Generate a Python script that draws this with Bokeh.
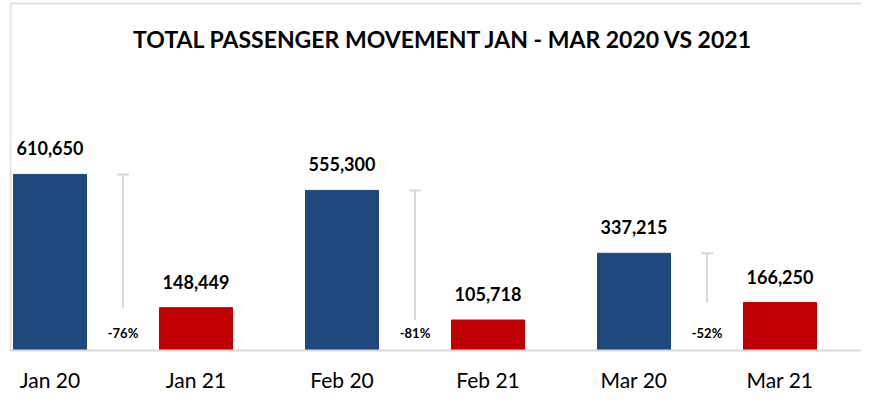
from bokeh.plotting import figure
from bokeh.models import (ColumnDataSource, Range1d, FixedTicker, Whisker, TeeHead, Label,
                          BoxAnnotation)
from bokeh.core.properties import value
from bokeh.embed import file_html
from bokeh.resources import INLINE

# ---- data ----
categories = ["Jan 20", "Jan 21", "Feb 20", "Feb 21", "Mar 20", "Mar 21"]
passengers = [610650, 148449, 555300, 105718, 337215, 166250]
years = ["2020", "2021", "2020", "2021", "2020", "2021"]
pct_labels = ["-76%", "-81%", "-52%"]
title_text = "TOTAL PASSENGER MOVEMENT JAN - MAR 2020 VS 2021"

# ---- styles ----
year_colors = {"2020": "#1F497D", "2021": "#C00000"}
FONT = "Lato"
GREY = "#D9D9D9"

W, H = 861, 394
px_per_cat = 146.0
left_pad = 9
gap_px = 4
frame_w = W - left_pad
frame_h = 350
x_start = -0.25 - gap_px / px_per_cat
x_end = x_start + frame_w / px_per_cat
y_end = 1214000

xs = list(range(len(categories)))
src = ColumnDataSource(dict(
    x=xs,
    y=passengers,
    color=[year_colors[y] for y in years],
    label=[f"{v:,}" for v in passengers],
))

# change markers between each 2020/2021 pair
pair_x = [(xs[i] + xs[i + 1]) / 2 for i in range(0, len(xs), 2)]
pair_hi = [passengers[i] for i in range(0, len(xs), 2)]
pair_lo = [passengers[i + 1] for i in range(0, len(xs), 2)]
wsrc = ColumnDataSource(dict(base=pair_x, upper=pair_hi, lower=pair_lo,
                             zero=[0] * len(pair_x), pct=pct_labels))

p = figure(width=W, height=H, output_backend="svg", toolbar_location=None,
           x_range=Range1d(x_start, x_end), y_range=Range1d(0, y_end),
           min_border_left=left_pad, min_border_right=0, min_border_top=0,
           min_border_bottom=H - frame_h)
p.outline_line_color = None
p.xgrid.visible = False
p.ygrid.visible = False
p.yaxis.visible = False

# chart-area border (left and top edges visible in the reference)
p.add_layout(BoxAnnotation(left=1, right=2000, top=347, bottom=-200,
                           left_units="screen", right_units="screen",
                           top_units="screen", bottom_units="screen",
                           fill_color=None, line_color=GREY, line_width=2,
                           line_alpha=0.8, level="underlay", editable=False))

p.vbar(x="x", top="y", width=0.5, bottom=0, color="color", source=src)

p.text(x="x", y="y", text="label", source=src, y_offset=-26,
       text_align="center", text_baseline="alphabetic",
       text_font=value(FONT), text_font_style="bold", text_font_size="18px",
       text_color="#000000")

wh = Whisker(base="base", upper="upper", lower="lower", source=wsrc,
             dimension="height", line_color=GREY, line_width=2,
             upper_head=TeeHead(size=12, line_color=GREY, line_width=2),
             lower_head=None)
p.add_layout(wh)

p.text(x="base", y="zero", text="pct", source=wsrc, y_offset=-18,
       text_align="center", text_baseline="middle",
       text_font=value(FONT), text_font_style="bold", text_font_size="13px",
       text_color="#000000")

p.add_layout(Label(x=434, y=312, x_units="screen", y_units="screen",
                   text=title_text, text_align="center",
                   text_baseline="alphabetic", text_font=FONT,
                   text_font_style="bold", text_font_size="23px",
                   text_color="#000000"))

ax = p.xaxis[0]
ax.ticker = FixedTicker(ticks=xs)
ax.major_label_overrides = {i: c for i, c in zip(xs, categories)}
ax.axis_line_color = GREY
ax.axis_line_width = 2
ax.major_tick_line_color = None
ax.minor_tick_line_color = None
ax.major_label_standoff = 10
ax.major_label_text_font = FONT
ax.major_label_text_font_size = "21px"
ax.major_label_text_color = "#000000"

open("out.html", "w").write(file_html(p, INLINE))
